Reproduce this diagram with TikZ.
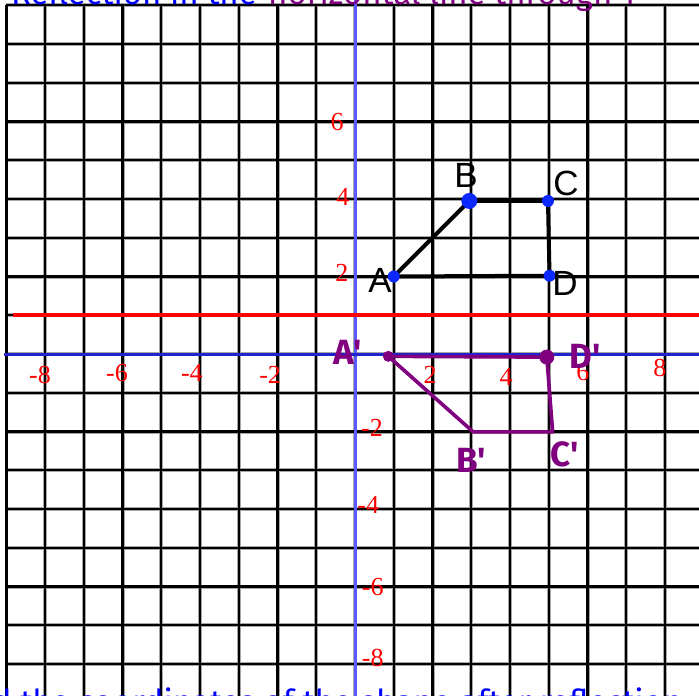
\documentclass[tikz,border=0pt]{standalone}
\usepackage{fontspec}
\setmainfont{Liberation Serif}
\newfontfamily\lsans{Liberation Sans}
\newfontfamily\hand{Fira Sans}
\definecolor{axblue}{RGB}{35,35,205}
\definecolor{ayblue}{RGB}{90,90,255}
\definecolor{ptblue}{RGB}{10,40,255}
\definecolor{purp}{RGB}{128,0,128}
\definecolor{txtblue}{RGB}{0,0,255}
\tikzset{
  gridhalo/.style={black!35, line width=4pt},
  gridline/.style={black, line width=2.2pt},
  ticklab/.style={text=red, inner sep=0pt, font=\fontsize{26}{28}\selectfont},
  shapeline/.style={black, line width=4pt, line join=round, line cap=round},
  imgline/.style={purp, line width=3.6pt, line join=round, line cap=round},
  bdot/.style={circle, fill=ptblue, inner sep=0pt, minimum size=12pt},
  pdot/.style={circle, fill=purp, inner sep=0pt, minimum size=11pt},
  vlab/.style={inner sep=0pt, font=\lsans\fontsize{35}{38}\selectfont},
  plab/.style={inner sep=0pt, text=purp, font=\hand\bfseries\fontsize{35}{38}\selectfont},
  toptext/.style={inner sep=0pt, font=\hand\fontsize{33}{36}\selectfont}
}
\begin{document}
\begin{tikzpicture}[x=1pt,y=1pt]
\useasboundingbox (0,0) rectangle (699,-696);
\clip (0,0) rectangle (699,-696);
\fill[white] (0,0) rectangle (699,-696);
\begin{scope}[shift={(355,-354)}, x=38.75pt, y=38.75pt]
  % grid
  \foreach \i in {-8,...,8} \draw[gridhalo] (\i,9) -- (\i,-9.3);
  \foreach \j in {-9,...,9} \draw[gridhalo] (-9,\j) -- (9.3,\j);
  \foreach \i in {-8,...,8} \draw[gridline] (\i,9) -- (\i,-9.3);
  \foreach \j in {-9,...,9} \draw[gridline] (-9,\j) -- (9.3,\j);
  \draw[gridline, line width=3.2pt] (-9,9) -- (-9,-9.3);
  % axes
  \draw[ayblue, line width=3pt] (0,9.2) -- (0,-9.3);
  \draw[axblue, line width=3pt] (-9.05,0) -- (9.3,0);
  % mirror line y=1
  \draw[red, line width=4pt] (-8.83,1) -- (9.3,1);
  % tick labels
  \node[ticklab] (xm8) at (-8.13,-0.54) {-8};
  \node[ticklab] (xm6) at (-6.14,-0.49) {-6};
  \node[ticklab] (xm4) at (-4.21,-0.49) {-4};
  \node[ticklab] (xm2) at (-2.19,-0.54) {-2};
  \node[ticklab] (xp2) at (1.94,-0.54) {2};
  \node[ticklab] (xp4) at (3.90,-0.59) {4};
  \node[ticklab] (xp6) at (5.88,-0.46) {6};
  \node[ticklab] (xp8) at (7.87,-0.36) {8};
  \node[ticklab] (yp6) at (-0.46,5.99) {6};
  \node[ticklab] (yp4) at (-0.31,4.05) {4};
  \node[ticklab] (yp2) at (-0.34,2.09) {2};
  \node[ticklab] (ym2) at (0.44,-1.91) {-2};
  \node[ticklab] (ym4) at (0.34,-3.90) {-4};
  \node[ticklab] (ym6) at (0.46,-6.01) {-6};
  \node[ticklab] (ym8) at (0.46,-7.85) {-8};
  % original shape
  \coordinate (A) at (1,2);
  \coordinate (B) at (2.95,3.95);
  \coordinate (C) at (4.98,3.95);
  \coordinate (D) at (5.02,2.02);
  \draw[shapeline] (A) -- (B) -- (C) -- (D) -- cycle;
  \node[bdot] (dA) at (A) {};
  \node[bdot, minimum width=16pt, minimum height=14pt] (dB) at (B) {};
  \node[bdot] (dC) at (C) {};
  \node[bdot] (dD) at (D) {};
  \node[vlab] (lA) at (0.645,1.91) {A};
  \node[vlab] (lB) at (2.865,4.60) {B};
  \node[vlab] (lC) at (5.445,4.40) {C};
  \node[vlab] (lD) at (5.42,1.83) {D};
  % image shape
  \coordinate (A1) at (0.86,-0.06);
  \coordinate (B1) at (3.05,-2.01);
  \coordinate (C1) at (5.10,-2.01);
  \coordinate (D1) at (4.95,-0.08);
  \draw[imgline] (A1) -- (B1) -- (C1) -- (D1) -- cycle;
  \node[pdot] (dA1) at (A1) {};
  \node[pdot, minimum size=15pt] (dD1) at (D1) {};
  \node[plab] (lA1) at (-0.19,0.05) {A'};
  \node[plab] (lD1) at (5.94,-0.05) {D'};
  \node[plab] (lB1) at (3.0,-2.75) {B'};
  \node[plab] (lC1) at (5.4,-2.6) {C'};
\end{scope}
% cropped captions
\node[toptext, text=txtblue, anchor=base east] (t1) at (257,-5) {Reflection in the};
\node[toptext, text=purp, anchor=base west] (t2) at (268,-5) {horizontal line through 1};
\node[toptext, text=txtblue, anchor=base west] (t3) at (-52,-713) {Find the coordinates of the shape after reflection};
\end{tikzpicture}
\end{document}
